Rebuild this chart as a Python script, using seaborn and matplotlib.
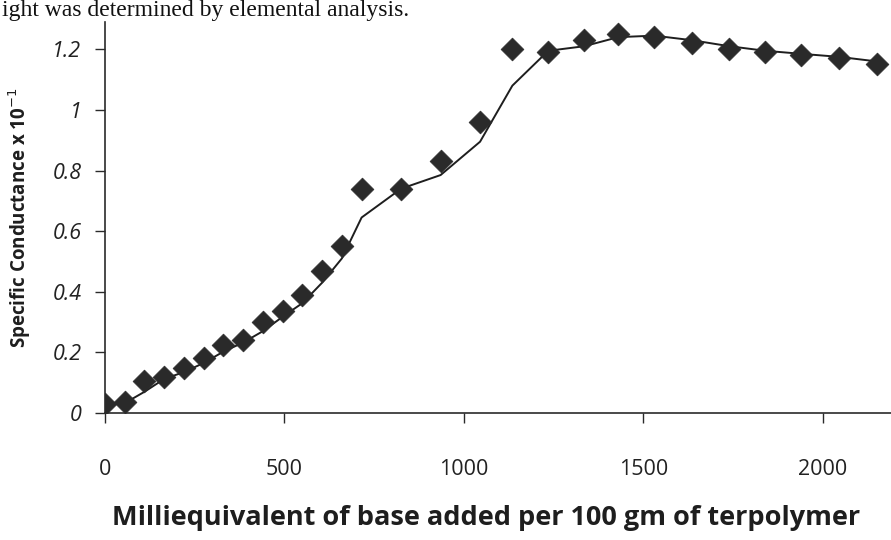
import numpy as np
import pandas as pd
import matplotlib
matplotlib.use("Agg")
import matplotlib.pyplot as plt
import seaborn as sns

# Conductometric titration data
base_added = [0, 55, 110, 165, 220, 275, 330, 385, 440, 495, 550, 605, 660, 715,
              825, 935, 1045, 1135, 1235, 1335, 1430, 1530, 1635, 1740, 1840,
              1940, 2045, 2150]
conductance = [0.03, 0.035, 0.105, 0.12, 0.15, 0.18, 0.225, 0.24, 0.30, 0.335,
               0.39, 0.47, 0.55, 0.74, 0.74, 0.83, 0.96, 1.20, 1.19, 1.23,
               1.25, 1.24, 1.22, 1.20, 1.19, 1.18, 1.17, 1.15]
x_ticks = [0, 500, 1000, 1500, 2000]
y_ticks = [0, 0.2, 0.4, 0.6, 0.8, 1.0, 1.2]
y_tick_labels = ["0", "0.2", "0.4", "0.6", "0.8", "1", "1.2"]

df = pd.DataFrame({"base": base_added, "cond": conductance})
# two-period moving average trendline
trend = df.assign(cond=df["cond"].rolling(2).mean()).dropna()

sns.set_theme(style="white")
plt.rcParams["font.family"] = ["Open Sans", "DejaVu Sans"]

fig = plt.figure(figsize=(8.91, 5.40), dpi=100)
ax = fig.add_axes([105 / 891, 1 - 413 / 540, (891 - 105) / 891, (413 - 22) / 540])

sns.lineplot(data=trend, x="base", y="cond", ax=ax, color="#1e1e1e",
             linewidth=1.4, zorder=2)
sns.scatterplot(data=df, x="base", y="cond", ax=ax, marker="D", s=135,
                color="#2a2a2a", edgecolor="#2a2a2a", linewidth=0.5, zorder=3)

ax.set_xlim(0, 2190)
ax.set_ylim(0, 1.29)
ax.set_xticks(x_ticks)
ax.set_yticks(y_ticks)
ax.set_yticklabels(y_tick_labels, fontstyle="italic")
for s in ["top", "right"]:
    ax.spines[s].set_visible(False)
for s in ["left", "bottom"]:
    ax.spines[s].set_color("#2a2a2a")
    ax.spines[s].set_linewidth(1.2)

ax.tick_params(axis="x", direction="out", length=7, width=1.0, color="#2a2a2a",
               pad=26, labelsize=15.5, labelcolor="#222222", bottom=True)
ax.tick_params(axis="y", direction="out", length=7, width=1.0, color="#2a2a2a",
               pad=10, labelsize=15.5, labelcolor="#222222", left=True)

ax.set_xlabel("Milliequivalent of base added per 100 gm of terpolymer",
              fontsize=19.5, fontweight="bold", color="#1e1e1e")
ax.xaxis.set_label_coords(0.485, -0.235)
ax.set_ylabel("Specific Conductance x 10$^{-1}$", fontsize=13.5,
              fontweight="bold", color="#1e1e1e", labelpad=14)

fig.text(0.002, 1 - 16 / 540, "ight was determined by elemental analysis.",
         family=["Liberation Serif", "DejaVu Serif"], fontsize=17,
         color="#111111", va="baseline", ha="left")

fig.savefig("out.png", dpi=100, facecolor="white")
